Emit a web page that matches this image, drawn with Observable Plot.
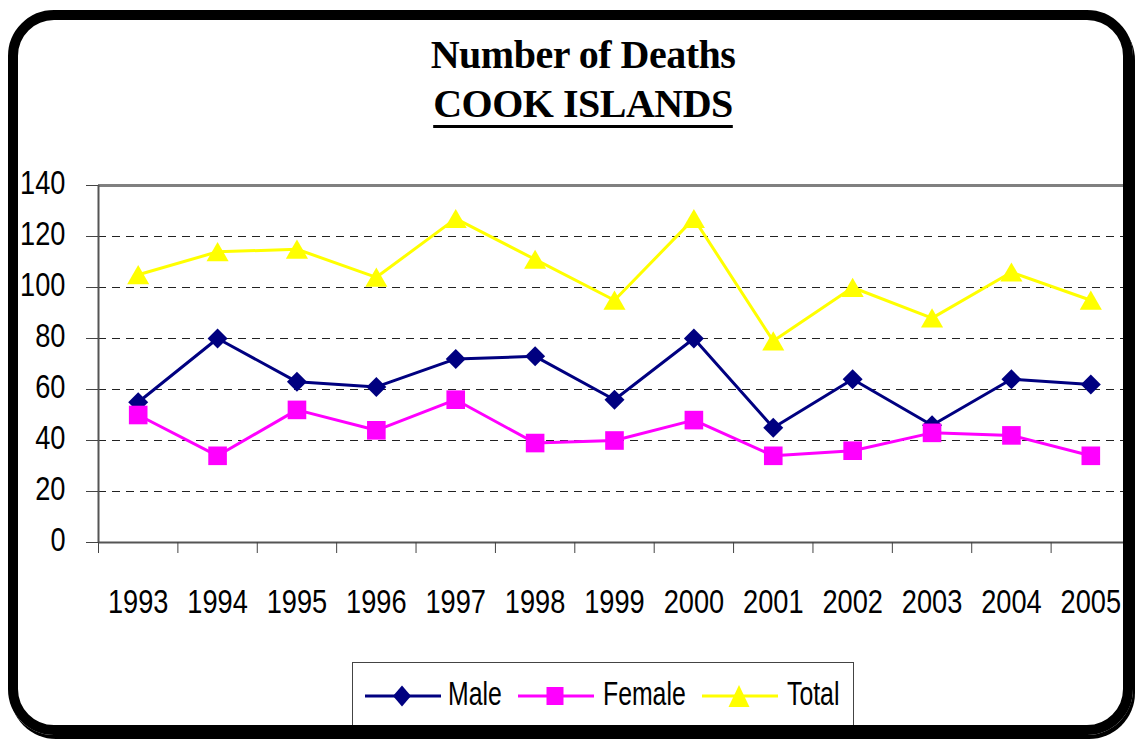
<!DOCTYPE html>
<html>
<head>
<meta charset="utf-8">
<script src="https://cdn.jsdelivr.net/npm/d3@7"></script>
<script src="https://cdn.jsdelivr.net/npm/@observablehq/plot@0.6"></script>
<style>
  body { margin: 0; background: #fff; }
  #wrap { position: relative; width: 1135px; height: 739px; overflow: hidden; background: #fff; }
  #chart { position: absolute; left: 0; top: 0; }
  #overlay { position: absolute; left: 0; top: 0; pointer-events: none; }
  #frame { position: absolute; left: 8px; top: 10px; width: 1125px; height: 725px; box-sizing: border-box;
           border: 10px solid #000; border-radius: 46px; box-shadow: 2px 4px 0 #000; pointer-events: none; }
</style>
</head>
<body>
<div id="wrap">
  <div id="chart"></div>
  <svg id="overlay" width="1135" height="739"></svg>
  <div id="frame"></div>
</div>
<script>
// ---- data ----
const years = [1993, 1994, 1995, 1996, 1997, 1998, 1999, 2000, 2001, 2002, 2003, 2004, 2005];
const male   = [55, 80, 63, 61, 72, 73, 56, 80, 45, 64, 46, 64, 62];
const female = [50, 34, 52, 44, 56, 39, 40, 48, 34, 36, 43, 42, 34];
const total  = [105, 114, 115, 104, 127, 111, 95, 127, 79, 100, 88, 106, 95];
const seriesNames = ["Male", "Female", "Total"];
const seriesColors = ["#000080", "#FF00FF", "#FFFF00"];
const yTicks = [0, 20, 40, 60, 80, 100, 120, 140];
const gridValues = [20, 40, 60, 80, 100, 120];
const titleLine1 = "Number of Deaths";
const titleLine2 = "COOK ISLANDS";

const seriesValues = [male, female, total];
const rows = [];
seriesNames.forEach((name, s) => {
  years.forEach((yr, i) => rows.push({ year: yr, series: name, value: seriesValues[s][i] }));
});
const x0 = years[0] - 0.5, x1 = years[years.length - 1] + 0.5;
const boundaries = d3.range(x0, x1 + 0.001, 1);
const AXIS_FONT = '"Liberation Sans", Arial, sans-serif';

const chart = Plot.plot({
  width: 1135,
  height: 739,
  marginLeft: 98,
  marginRight: 5,
  marginTop: 185,
  marginBottom: 197,
  x: { domain: [x0, x1], label: null },
  y: { domain: [0, 140], label: null },
  color: { domain: seriesNames, range: seriesColors },
  style: { fontFamily: AXIS_FONT, fontSize: "34px", color: "#000", background: "transparent", overflow: "visible" },
  marks: [
    Plot.ruleY(gridValues, { stroke: "#222", strokeWidth: 1, strokeDasharray: "8,6" }),
    Plot.ruleY([140], { stroke: "#808080", strokeWidth: 3 }),
    Plot.ruleX([x0], { stroke: "#555", strokeWidth: 2 }),
    Plot.ruleY([0], { stroke: "#555", strokeWidth: 2 }),
    Plot.axisY(yTicks, { tickSize: 12, tickFormat: () => "", stroke: "#444", label: null }),
    Plot.axisY(yTicks, { tickSize: 0, tickPadding: 33, dy: -2, fill: "#000", label: null }),
    Plot.axisX(boundaries, { tickSize: 11, tickFormat: () => "", stroke: "#444", label: null }),
    Plot.axisX(years, { tickSize: 0, tickPadding: 46, tickFormat: d => String(d), fill: "#000", label: null }),
    Plot.line(rows, { x: "year", y: "value", z: "series", stroke: "series", strokeWidth: 3 }),
    Plot.dot(rows.filter(d => d.series === "Male"), { x: "year", y: "value", fill: "series", symbol: "diamond2", r: 9, stroke: null }),
    Plot.dot(rows.filter(d => d.series === "Female"), { x: "year", y: "value", fill: "series", symbol: "square", r: 10.5, stroke: null }),
    Plot.dot(rows.filter(d => d.series === "Total"), { x: "year", y: "value", fill: "series", symbol: "triangle", r: 8.2, dy: 3, stroke: null })
  ]
});
document.getElementById("chart").appendChild(chart);

// condense the tick labels horizontally (narrow font look)
d3.select(chart).selectAll("text").each(function () {
  if (!this.textContent) return;
  const len = this.getComputedTextLength();
  if (len > 0) {
    this.setAttribute("textLength", (len * 0.8).toFixed(1));
    this.setAttribute("lengthAdjust", "spacingAndGlyphs");
  }
});

// ---- title + legend overlay ----
const ov = d3.select("#overlay");
const cx = 583;
const tStyle = s => s.attr("font-family", '"Liberation Serif", "Times New Roman", serif')
  .attr("font-weight", "bold").attr("font-size", 40).attr("letter-spacing", "-0.5px")
  .attr("text-anchor", "middle").attr("fill", "#000");
ov.append("text").attr("x", cx).attr("y", 68).text(titleLine1).call(tStyle);
const t2 = ov.append("text").attr("x", cx).attr("y", 117).text(titleLine2).call(tStyle);
const w2 = t2.node().getComputedTextLength();
ov.append("line").attr("x1", cx - w2 / 2).attr("x2", cx + w2 / 2).attr("y1", 126.5).attr("y2", 126.5)
  .attr("stroke", "#000").attr("stroke-width", 3);

// legend
const lg = ov.append("g");
lg.append("rect").attr("x", 352.5).attr("y", 662.5).attr("width", 501).attr("height", 75)
  .attr("fill", "#fff").attr("stroke", "#444").attr("stroke-width", 1);
const items = [
  { x: 365, text: 448 },
  { x: 518, text: 603 },
  { x: 702, text: 787 }
];
const ly = 696;
seriesNames.forEach((name, i) => {
  const it = items[i];
  const mx = it.x + 37;
  lg.append("line").attr("x1", it.x).attr("x2", it.x + 76).attr("y1", ly).attr("y2", ly)
    .attr("stroke", seriesColors[i]).attr("stroke-width", 3);
  let path;
  if (i === 0) path = `M${mx},${ly - 10.5}L${mx + 9},${ly}L${mx},${ly + 10.5}L${mx - 9},${ly}Z`;
  else if (i === 1) path = `M${mx - 8.5},${ly - 9}H${mx + 8.5}V${ly + 9}H${mx - 8.5}Z`;
  else path = `M${mx},${ly - 11}L${mx + 10.5},${ly + 11}L${mx - 10.5},${ly + 11}Z`;
  lg.append("path").attr("d", path).attr("fill", seriesColors[i]);
  lg.append("text").attr("transform", `translate(${it.text},705) scale(0.73,1)`).text(name)
    .attr("font-family", AXIS_FONT).attr("font-size", 34).attr("fill", "#000");
});
</script>
</body>
</html>
